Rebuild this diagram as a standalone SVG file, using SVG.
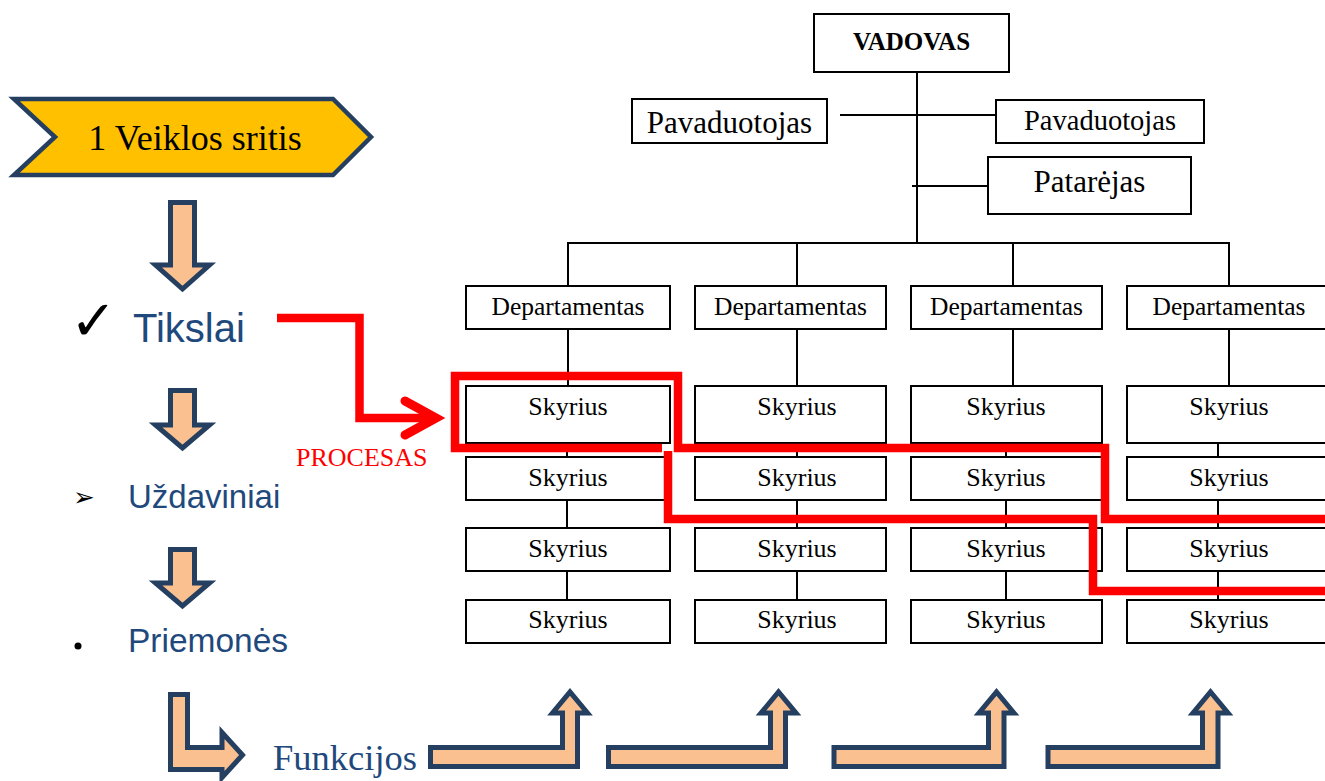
<svg xmlns="http://www.w3.org/2000/svg" width="1325" height="781" viewBox="0 0 1325 781">
  <style>
    .box { fill: #ffffff; stroke: #000000; stroke-width: 2; }
    .ln { fill: none; stroke: #000000; stroke-width: 2; }
    .t { font-family: "Liberation Serif", "Times New Roman", serif; fill: #000000; text-anchor: middle; }
    .blk { fill: #FAC090; stroke: #243F60; stroke-width: 5; stroke-linejoin: miter; }
    .red { fill: none; stroke: #FF0000; stroke-width: 8.5; }
    .lst { font-family: "Liberation Sans", Arial, sans-serif; fill: #1F497D; }
  </style>
  <rect width="1325" height="781" fill="#ffffff"/>

  <!-- left column: area and its levels -->
  <g id="veiklos-sritis">
    <polygon points="14,99 333,99 371,137 333,175 14,175 55,137" fill="#FFC000" stroke="#243F60" stroke-width="4.5"/>
    <text x="195" y="150" font-family="Liberation Serif, serif" font-size="36" text-anchor="middle" fill="#000">1 Veiklos sritis</text>
  </g>
  <g id="arrow-down-1"><path class="blk" d="M170.5 202.5 H194.5 V265 H209.5 L182.5 289 L155.5 265 H170.5 Z"/></g>
  <g id="tikslai">
    <text x="70" y="340" font-family="DejaVu Sans, sans-serif" font-size="56" fill="#000">✓</text>
    <text class="lst" x="133" y="342" font-size="40">Tikslai</text>
  </g>
  <g id="arrow-down-2"><path class="blk" d="M170.5 390.5 H194.5 V425 H209.5 L182.5 448 L155.5 425 H170.5 Z"/></g>
  <g id="uzdaviniai">
    <text x="73" y="506" font-family="DejaVu Sans, sans-serif" font-size="26" fill="#000">➢</text>
    <text class="lst" x="128" y="508" font-size="33">Uždaviniai</text>
  </g>
  <g id="arrow-down-3"><path class="blk" d="M170.5 549.5 H194.5 V583 H209.5 L182.5 606 L155.5 583 H170.5 Z"/></g>
  <g id="priemones">
    <circle cx="78" cy="646" r="3.5" fill="#000"/>
    <text class="lst" x="128" y="652" font-size="33.5">Priemonės</text>
  </g>
  <g id="arrow-bend-right"><path class="blk" d="M170.5 694.5 H187.5 V747.5 H222 V732.5 L242.5 755 L222 777.5 V769.5 H170.5 Z"/></g>
  <g id="funkcijos">
    <text x="273" y="770" font-family="Liberation Serif, serif" font-size="36.5" fill="#1F497D">Funkcijos</text>
  </g>

  <!-- bent arrows pointing up to each department column -->
  <g id="func-arrows">
    <path class="blk" d="M430.5 747.5 H562.5 V713 H552.5 L570 692 L587.5 713 H577.5 V766.5 H430.5 Z"/>
    <path class="blk" d="M608.5 747.5 H770.5 V713 H761 L778.5 692 L796 713 H785.5 V766.5 H608.5 Z"/>
    <path class="blk" d="M834 747.5 H988.5 V713 H979 L996.5 692 L1014 713 H1004 V766.5 H834 Z"/>
    <path class="blk" d="M1048 747.5 H1202.5 V713 H1193 L1210.5 692 L1228 713 H1218 V766.5 H1048 Z"/>
  </g>

  <!-- organisation chart connectors -->
  <g id="connectors">
    <path class="ln" d="M917 72 V243"/>
    <path class="ln" d="M840 115 H996"/>
    <path class="ln" d="M912 186 H988"/>
    <path class="ln" d="M568 286 V243 H1229 V286"/>
    <path class="ln" d="M797 243 V286"/>
    <path class="ln" d="M1013 243 V286"/>
    <path class="ln" d="M568 329 V386 M567 443 V457 M567 500 V528 M567 571 V600"/>
    <path class="ln" d="M797 329 V386 M797 443 V457 M797 500 V528 M797 571 V600"/>
    <path class="ln" d="M1013 329 V386 M1006 443 V457 M1006 500 V528 M1006 571 V600"/>
    <path class="ln" d="M1229 329 V386 M1218 443 V457 M1218 500 V528 M1218 571 V600"/>
  </g>

  <g id="vadovas">
    <rect class="box" x="814" y="14" width="195" height="58"/>
    <text class="t" x="911.5" y="50" font-size="25" font-weight="bold">VADOVAS</text>
  </g>
  <g id="pavaduotojas-1">
    <rect class="box" x="632" y="99" width="195" height="44"/>
    <text class="t" x="729.5" y="133" font-size="31">Pavaduotojas</text>
  </g>
  <g id="pavaduotojas-2">
    <rect class="box" x="996" y="100" width="208" height="43"/>
    <text class="t" x="1100" y="130" font-size="28.5">Pavaduotojas</text>
  </g>
  <g id="patarejas">
    <rect class="box" x="988" y="157" width="203" height="57"/>
    <text class="t" x="1089.5" y="192" font-size="31">Patarėjas</text>
  </g>

  <g id="departamentas-1">
    <rect class="box" x="466" y="286" width="204" height="43"/>
    <text class="t" x="568" y="315" font-size="25.5">Departamentas</text>
  </g>
  <g id="departamentas-2">
    <rect class="box" x="695" y="286" width="191" height="43"/>
    <text class="t" x="790.5" y="315" font-size="25.5">Departamentas</text>
  </g>
  <g id="departamentas-3">
    <rect class="box" x="911" y="286" width="191" height="43"/>
    <text class="t" x="1006.5" y="315" font-size="25.5">Departamentas</text>
  </g>
  <g id="departamentas-4">
    <rect class="box" x="1127" y="286" width="210" height="43"/>
    <text class="t" x="1229" y="315" font-size="25.5">Departamentas</text>
  </g>

  <!-- sections: four rows per department -->
  <g id="skyrius-1-1"><rect class="box" x="466" y="386" width="204" height="57"/><text class="t" x="568" y="415" font-size="26">Skyrius</text></g>
  <g id="skyrius-1-2"><rect class="box" x="466" y="457" width="204" height="43"/><text class="t" x="568" y="486" font-size="26">Skyrius</text></g>
  <g id="skyrius-1-3"><rect class="box" x="466" y="528" width="204" height="43"/><text class="t" x="568" y="557" font-size="26">Skyrius</text></g>
  <g id="skyrius-1-4"><rect class="box" x="466" y="600" width="204" height="43"/><text class="t" x="568" y="628" font-size="26">Skyrius</text></g>

  <g id="skyrius-2-1"><rect class="box" x="695" y="386" width="191" height="57"/><text class="t" x="797" y="415" font-size="26">Skyrius</text></g>
  <g id="skyrius-2-2"><rect class="box" x="695" y="457" width="191" height="43"/><text class="t" x="797" y="486" font-size="26">Skyrius</text></g>
  <g id="skyrius-2-3"><rect class="box" x="695" y="528" width="191" height="43"/><text class="t" x="797" y="557" font-size="26">Skyrius</text></g>
  <g id="skyrius-2-4"><rect class="box" x="695" y="600" width="191" height="43"/><text class="t" x="797" y="628" font-size="26">Skyrius</text></g>

  <g id="skyrius-3-1"><rect class="box" x="911" y="386" width="191" height="57"/><text class="t" x="1006" y="415" font-size="26">Skyrius</text></g>
  <g id="skyrius-3-2"><rect class="box" x="911" y="457" width="191" height="43"/><text class="t" x="1006" y="486" font-size="26">Skyrius</text></g>
  <g id="skyrius-3-3"><rect class="box" x="911" y="528" width="191" height="43"/><text class="t" x="1006" y="557" font-size="26">Skyrius</text></g>
  <g id="skyrius-3-4"><rect class="box" x="911" y="600" width="191" height="43"/><text class="t" x="1006" y="628" font-size="26">Skyrius</text></g>

  <g id="skyrius-4-1"><rect class="box" x="1127" y="386" width="210" height="57"/><text class="t" x="1229" y="415" font-size="26">Skyrius</text></g>
  <g id="skyrius-4-2"><rect class="box" x="1127" y="457" width="210" height="43"/><text class="t" x="1229" y="486" font-size="26">Skyrius</text></g>
  <g id="skyrius-4-3"><rect class="box" x="1127" y="528" width="210" height="43"/><text class="t" x="1229" y="557" font-size="26">Skyrius</text></g>
  <g id="skyrius-4-4"><rect class="box" x="1127" y="600" width="210" height="43"/><text class="t" x="1229" y="628" font-size="26">Skyrius</text></g>

  <!-- process path across sections -->
  <g id="procesas">
    <path class="red" d="M277 318 H359.5 V418 H434"/>
    <polyline points="405,401 436,418 405,435" fill="none" stroke="#FF0000" stroke-width="9" stroke-linecap="round" stroke-linejoin="miter"/>
    <text x="296" y="466" font-family="Liberation Serif, serif" font-size="26" fill="#FF0000">PROCESAS</text>
    <path class="red" d="M662 448 H455 V376 H678 V448 H1105 V519 H1330"/>
    <path class="red" d="M668 451 V519 H1093 V591 H1330"/>
  </g>
</svg>
